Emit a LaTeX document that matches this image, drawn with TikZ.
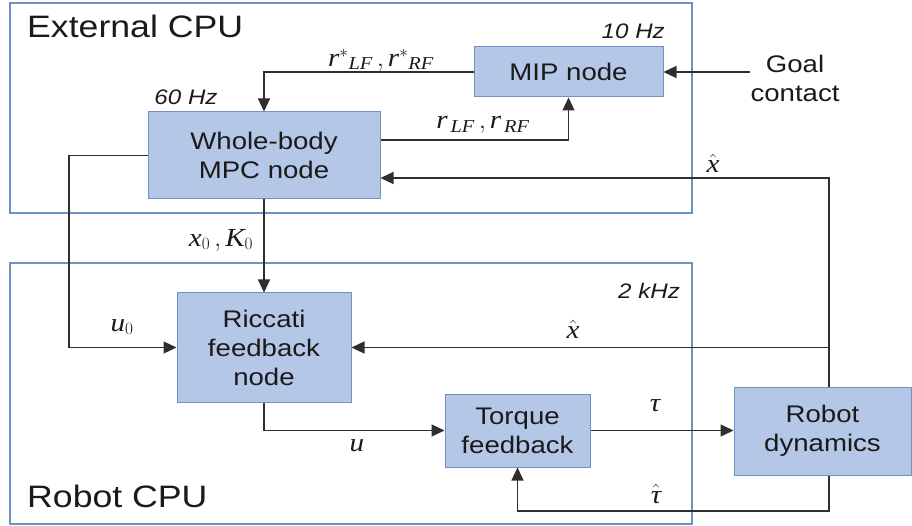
\documentclass[tikz,border=0pt]{standalone}
\usepackage{amsmath}
\usepackage{fontspec}
\setmainfont{Liberation Sans}[FakeStretch=1.15]
\newfontfamily\lserif{Liberation Serif}[FakeStretch=1.12]
\usetikzlibrary{arrows.meta,calc}
\definecolor{blkfill}{HTML}{B4C7E7}
\definecolor{blkbord}{HTML}{7391C0}
\definecolor{cpubord}{HTML}{6F92C4}
\definecolor{lncol}{HTML}{2E2E2E}
\definecolor{txtcol}{HTML}{1A1A1A}
\newcommand\myNodeFont{\fontsize{24}{29}\selectfont}
\newcommand\myTitleFont{\fontsize{31}{36}\selectfont}
\newcommand\myHzFont{\fontsize{21}{25}\selectfont\itshape}
\newcommand\myMathFont{\fontsize{26}{30}\selectfont\lserif}
\tikzset{
  blk/.style={draw=blkbord, fill=blkfill, line width=1pt, text=txtcol, align=center, font=\myNodeFont, inner sep=0pt},
  cpu/.style={draw=cpubord, line width=1.3pt, inner sep=0pt},
  conn/.style={draw=lncol, line width=1.2pt},
  arr/.style={conn, -{Triangle[length=13pt,width=12pt]}},
  lbl/.style={font=\myMathFont, text=txtcol, inner sep=0pt},
  hz/.style={font=\myHzFont, text=txtcol, inner sep=0pt},
  ttl/.style={font=\myTitleFont, text=txtcol, inner sep=0pt, anchor=west},
  plain/.style={font=\myNodeFont, text=txtcol, align=center, inner sep=0pt},
}
\begin{document}
\begin{tikzpicture}[x=1pt, y=-1pt]
\useasboundingbox (0,0) rectangle (912,526);
% containers
\node[cpu, minimum width=682pt, minimum height=210pt] (ext) at (351,108) {};
\node[cpu, minimum width=682pt, minimum height=261pt] (rob) at (351,393.5) {};
\node[ttl] (extT) at (27,26) {External CPU};
\node[ttl] (robT) at (27,496) {Robot CPU};
% blocks
\node[blk, minimum width=232pt, minimum height=87pt] (mpc) at (264,155.5) {Whole-body\\MPC node};
\node[blk, minimum width=189pt, minimum height=50pt] (mip) at (568.5,72) {MIP node};
\node[blk, minimum width=174pt, minimum height=109pt] (ric) at (264,347.5) {Riccati\\feedback\\node};
\node[blk, minimum width=145pt, minimum height=73pt] (tq) at (517.5,430.5) {Torque\\feedback};
\node[blk, minimum width=177pt, minimum height=88pt] (rd) at (822.5,431) {Robot\\dynamics};
\node[plain] (goal) at (795,78) {Goal\\contact};
% rate labels
\node[hz, anchor=east] (hz10) at (665,31) {10 Hz};
\node[hz] (hz60) at (186,97) {60 Hz};
\node[hz] (hz2) at (649,291) {2 kHz};
% helper coordinates
\coordinate (rr) at (568,140);
\coordinate (xv) at (829,178);
\coordinate (ul) at (69,155);
\coordinate (tb) at (829,511);
% connectors
\draw[arr] (mip.west) -| (mpc.north);
\draw[arr] (mpc.east |- rr) -| (mip.south);
\draw[arr] (goal.west |- mip.east) -- (mip.east);
\draw[arr] (xv |- rd.north) -- (xv) -- (mpc.east |- xv);
\draw[arr] (xv |- ric.east) -- (ric.east);
\draw[arr] (mpc.west) -- (ul |- mpc.west) |- (ric.west);
\draw[arr] (mpc.south) -- (ric.north);
\draw[arr] (ric.south) |- (tq.west);
\draw[arr] (tq.east) -- (tq.east -| rd.west);
\draw[arr] (tb |- rd.south) -- (tb) -| (tq.south);
% signal labels
\node[lbl] (lrs) at (381,60) {$\textit{r}^{*}{}_{\textit{LF}}\,,\textit{r}^{*}{}_{\textit{RF}}$};
\node[lbl] (lr) at (483,125) {$\textit{r}_{\,\textit{LF}}\,,\textit{r}_{\,\textit{RF}}$};
\node[lbl] (lx1) at (713,163) {$\hat{\textit{x}}$};
\node[lbl] (lxk) at (221,240) {$\textit{x}_{0}\,,\textit{K}_{0}$};
\node[lbl] (lu0) at (122,327) {$\textit{u}_{0}$};
\node[lbl] (lx2) at (573,329) {$\hat{\textit{x}}$};
\node[lbl] (lu) at (357,446) {$\textit{u}$};
\node[lbl] (ltau) at (655,406) {$\textit{τ}$};
\node[lbl] (ltauh) at (656,494) {$\hat{\textit{τ}}$};
\end{tikzpicture}
\end{document}
